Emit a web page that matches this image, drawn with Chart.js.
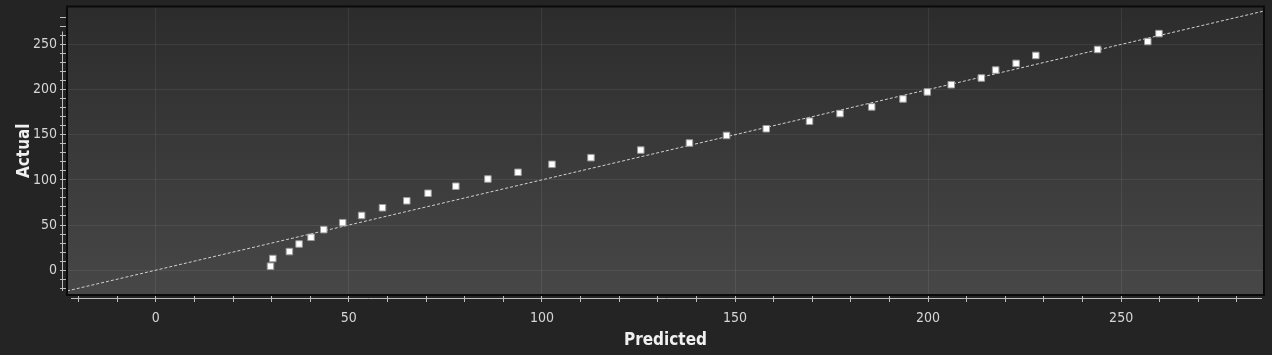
<!DOCTYPE html>
<html>
<head>
<meta charset="utf-8">
<script src="https://cdn.jsdelivr.net/npm/chart.js@4/dist/chart.umd.min.js"></script>
<style>
  html, body { margin: 0; padding: 0; background: #242424; }
  canvas { display: block; }
</style>
</head>
<body>
<canvas id="myChart" width="1272" height="355"></canvas>
<script>
// Valores (Predicted vs Actual)
const predicted = [29.7, 30.3, 34.6, 37.1, 40.2, 43.5, 48.4, 53.3, 58.7, 65.0, 70.5, 77.7, 86.0, 93.8, 102.6, 112.7,
  125.6, 138.2, 147.8, 158.1, 169.3, 177.2, 185.4, 193.5, 199.8, 206.0, 213.8, 217.5, 222.8, 227.9, 243.9, 256.9, 259.8];
const actual = [4.4, 12.9, 20.6, 29.0, 36.4, 44.9, 52.6, 60.6, 69.1, 76.8, 85.2, 93.0, 101.0, 108.4, 117.2, 124.6,
  133.0, 140.8, 149.2, 156.6, 165.0, 173.4, 180.8, 189.6, 197.4, 205.4, 212.8, 221.6, 229.0, 237.8, 244.4, 253.2, 262.0];

// Línea identidad y = x
const lineaX = [-23, 287];
const lineaY = [-23, 287];

// Marcas de los ejes (cada 10, etiqueta cada 50)
const xTicks = [-20, -10, 0, 10, 20, 30, 40, 50, 60, 70, 80, 90, 100, 110, 120, 130, 140, 150,
  160, 170, 180, 190, 200, 210, 220, 230, 240, 250, 260, 270, 280];
const yTicks = [-20, -10, 0, 10, 20, 30, 40, 50, 60, 70, 80, 90, 100, 110, 120, 130, 140, 150,
  160, 170, 180, 190, 200, 210, 220, 230, 240, 250, 260, 270, 280];

// Rangos de ejes
const xMin = -23, xMax = 287;
const yMin = -27.5, yMax = 292;

const puntos = predicted.map((p, i) => ({ x: p, y: actual[i] }));
const linea = lineaX.map((x, i) => ({ x: x, y: lineaY[i] }));

// Fondo degradado y marco del área de trazado
const fondoPlugin = {
  id: 'fondo',
  beforeDraw(chart) {
    const { ctx, chartArea: a } = chart;
    ctx.save();
    const g = ctx.createLinearGradient(0, a.top, 0, a.bottom);
    g.addColorStop(0, '#2c2c2c');
    g.addColorStop(1, '#474747');
    ctx.fillStyle = g;
    ctx.fillRect(a.left, a.top, a.right - a.left, a.bottom - a.top);
    ctx.restore();
  },
  afterDraw(chart) {
    const { ctx, chartArea: a } = chart;
    ctx.save();
    ctx.strokeStyle = '#0a0a0a';
    ctx.lineWidth = 2;
    ctx.strokeRect(a.left, a.top, a.right - a.left, a.bottom - a.top);
    // líneas de eje claras fuera del marco
    ctx.strokeStyle = '#bdbdbd';
    ctx.lineWidth = 1;
    ctx.beginPath();
    ctx.moveTo(a.left + 4, a.bottom + 3.5);
    ctx.lineTo(a.right - 2, a.bottom + 3.5);
    ctx.moveTo(a.left - 4.5, a.top + 25);
    ctx.lineTo(a.left - 4.5, a.bottom - 4);
    ctx.stroke();
    ctx.restore();
  }
};

const colorGrid = ctx => (ctx.tick && ctx.tick.value % 50 === 0) ? 'rgba(255,255,255,0.07)' : 'transparent';
const etiqueta = function (v, i) {
  const val = this.ticks[i].value;
  return val % 50 === 0 ? String(val) : '';
};

const ctx = document.getElementById('myChart').getContext('2d');
new Chart(ctx, {
  type: 'scatter',
  data: {
    datasets: [{
      label: 'Actual',
      data: puntos,
      pointStyle: 'rect',
      pointRadius: 4.6,
      backgroundColor: '#ffffff',
      borderColor: '#9a9a9a',
      borderWidth: 1,
      order: 1
    }, {
      label: 'y = x',
      type: 'line',
      data: linea,
      borderColor: '#d0d0d0',
      borderWidth: 1,
      borderDash: [3, 2],
      pointRadius: 0,
      fill: false,
      order: 2
    }]
  },
  options: {
    responsive: false,
    devicePixelRatio: 1,
    animation: false,
    layout: { padding: { top: 5, right: 8, left: 14, bottom: 0 } },
    plugins: {
      legend: { display: false },
      tooltip: { enabled: false }
    },
    scales: {
      x: {
        type: 'linear',
        min: xMin,
        max: xMax,
        afterBuildTicks: axis => { axis.ticks = xTicks.map(v => ({ value: v })); },
        afterFit: s => { s.height = 60; },
        border: { display: false },
        grid: { color: colorGrid, tickColor: '#bdbdbd', tickLength: 7 },
        ticks: {
          autoSkip: false,
          maxRotation: 0,
          minRotation: 0,
          color: '#d6d6d6',
          font: { family: 'DejaVu Sans Condensed', size: 14 },
          padding: 8,
          callback: etiqueta
        },
        title: {
          display: true,
          text: 'Predicted',
          color: '#f0f0f0',
          font: { family: 'DejaVu Sans Condensed', size: 17, weight: 'bold' },
          padding: { top: 0, bottom: 4 }
        }
      },
      y: {
        type: 'linear',
        min: yMin,
        max: yMax,
        afterBuildTicks: axis => { axis.ticks = yTicks.map(v => ({ value: v })); },
        afterFit: s => { s.width = 53; },
        border: { display: false },
        grid: { color: colorGrid, tickColor: '#bdbdbd', tickLength: 7 },
        ticks: {
          autoSkip: false,
          color: '#d6d6d6',
          font: { family: 'DejaVu Sans Condensed', size: 14, lineHeight: 0.5 },
          padding: 3,
          callback: etiqueta
        },
        title: {
          display: true,
          text: 'Actual',
          color: '#f0f0f0',
          font: { family: 'DejaVu Sans Condensed', size: 17, weight: 'bold' },
          padding: { top: 0, bottom: 0 }
        }
      }
    }
  },
  plugins: [fondoPlugin]
});
</script>
</body>
</html>
